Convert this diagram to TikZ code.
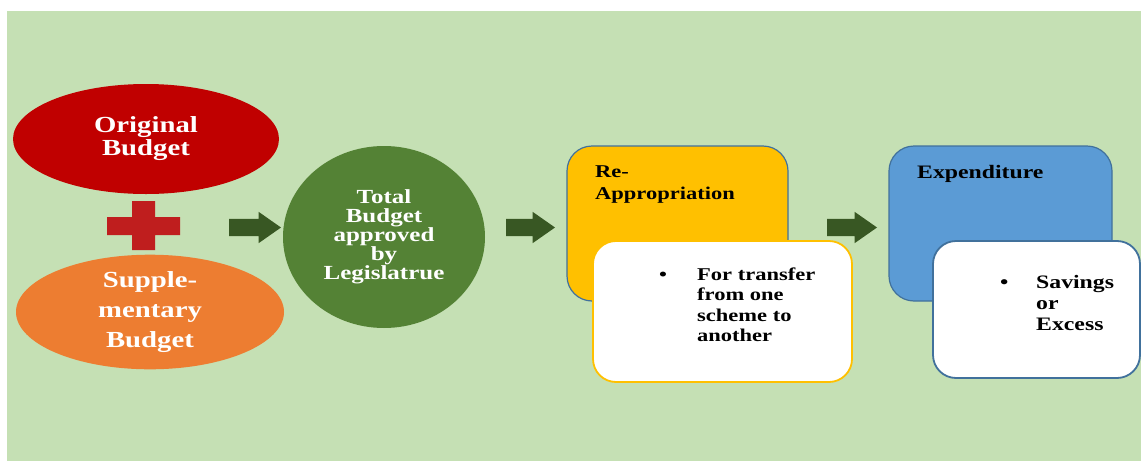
\documentclass[tikz,border=0pt]{standalone}
\usepackage{fontspec}
\setmainfont{Liberation Serif}[FakeStretch=1.25]
\usepackage{tikz}
\usetikzlibrary{shapes.geometric}
\usetikzlibrary{shapes.arrows}
\definecolor{bggreen}{HTML}{C5E0B4}
\definecolor{obred}{HTML}{C00000}
\definecolor{plusred}{HTML}{BF1E1E}
\definecolor{sborange}{HTML}{ED7D31}
\definecolor{tbgreen}{HTML}{548235}
\definecolor{arrgreen}{HTML}{385723}
\definecolor{ragold}{HTML}{FFC000}
\definecolor{exblue}{HTML}{5B9BD5}
\definecolor{boxline}{HTML}{41719C}
\newcommand\fs[2]{\fontsize{#1}{#2}\selectfont\bfseries}

\begin{document}
\begin{tikzpicture}[x=1pt,y=-1pt]
\tikzstyle{oval}=[ellipse,text=white,align=center,inner sep=0pt] %%
\tikzstyle{blockarr}=[single arrow,fill=arrgreen,anchor=tail,inner xsep=0pt,inner ysep=8.5pt,single arrow head extend=7pt,single arrow tip angle=70,outer sep=0pt] %%
\tikzstyle{card}=[rectangle,rounded corners=25pt,draw=boxline,line width=1.2pt] %%
\tikzstyle{note}=[rectangle,rounded corners=23pt,fill=white,line width=1.8pt] %%
\tikzstyle{txt}=[anchor=base west,inner sep=0pt,text=black] %%
\useasboundingbox (0,0) rectangle (1141,461);
\fill[bggreen] (7,11) rectangle (1141,461); %%
% the two budgets
\node[oval,fill=obred,minimum width=266pt,minimum height=110pt,font={\fs{23}{23}}] (ob) at (146,139) {Original\\Budget}; %%
\fill[plusred] (107,217) rectangle (180,235) (132,201) rectangle (155,250); %%
\node[oval,fill=sborange,minimum width=268pt,minimum height=106pt,font={\fs{23}{30}}] (sb) at (150,312) {Supple-\\mentary\\Budget}; %%
\node[blockarr,minimum height=52pt] (a1) at (229,227.5) {}; %%
\node[oval,fill=tbgreen,minimum width=202pt,minimum height=182pt,font={\fs{20}{19}}] (tb) at (384,237) {Total\\Budget\\approved\\by\\Legislatrue}; %%
% re-appropriation
\node[blockarr,minimum height=49pt] (a2) at (506,227.5) {}; %%
\node[card,fill=ragold,minimum width=221pt,minimum height=155pt] (ra) at (677.5,223.5) {}; %%
\node[txt,font={\fs{18}{22}}] (ratxt) at (595,177) {\begin{tabular}[t]{@{}l@{}}Re-\\Appropriation\end{tabular}}; %%
\node[note,draw=ragold,minimum width=259pt,minimum height=141pt] (w1) at (722.5,311.5) {}; %%
\node[txt,font={\fs{18}{20.5}}] (w1txt) at (659,280) {\begin{tabular}[t]{@{}p{38pt}@{}l@{}}\textbullet & For transfer\\ & from one\\ & scheme to\\ & another\end{tabular}}; %%
% expenditure
\node[blockarr,minimum height=50pt] (a3) at (827,227.5) {}; %%
\node[card,fill=exblue,minimum width=223pt,minimum height=155pt] (ex) at (1000.5,223.5) {}; %%
\node[txt,font={\fs{19}{19}}] (extxt) at (917,178) {Expenditure}; %%
\node[note,draw=boxline,minimum width=207pt,minimum height=137pt] (w2) at (1036.5,309.5) {}; %%
\node[txt,font={\fs{19}{21}}] (w2txt) at (1000,288) {\begin{tabular}[t]{@{}p{36pt}@{}l@{}}\textbullet & Savings\\ & or\\ & Excess\end{tabular}}; %%
\end{tikzpicture}
\end{document}
